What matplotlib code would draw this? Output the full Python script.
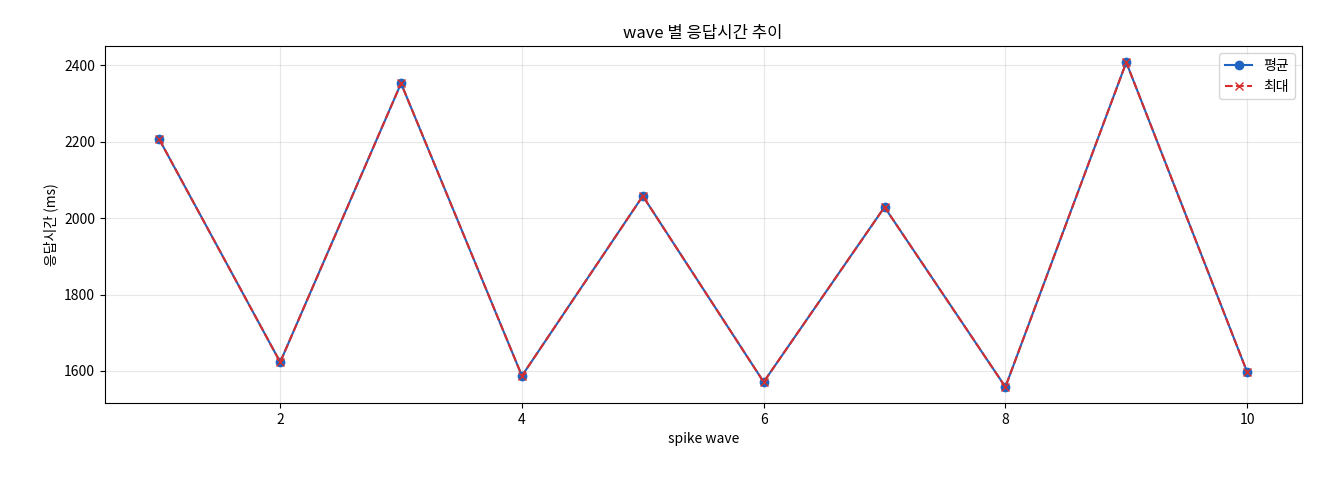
import matplotlib
matplotlib.use("Agg")
import matplotlib.pyplot as plt

plt.rcParams['font.family'] = ['Noto Sans CJK KR', 'DejaVu Sans']

waves = [1, 2, 3, 4, 5, 6, 7, 8, 9, 10]
avg_ms = [2206, 1623, 2353, 1587, 2058, 1571, 2029, 1558, 2408, 1597]
max_ms = [2206, 1623, 2353, 1587, 2058, 1571, 2029, 1558, 2408, 1597]

fig, ax = plt.subplots(figsize=(13.2, 4.8), dpi=100)
ax.plot(waves, avg_ms, marker='o', color='#1f64c0', label='평균')
ax.plot(waves, max_ms, marker='x', linestyle='--', color='#d62d2d', label='최대')
ax.set_title('wave 별 응답시간 추이')
ax.set_xlabel('spike wave')
ax.set_ylabel('응답시간 (ms)')
ax.grid(True, alpha=0.3)
ax.legend(loc='upper right')
fig.subplots_adjust(left=0.0795, right=0.986, top=0.904, bottom=0.160)
fig.savefig('out.png')
